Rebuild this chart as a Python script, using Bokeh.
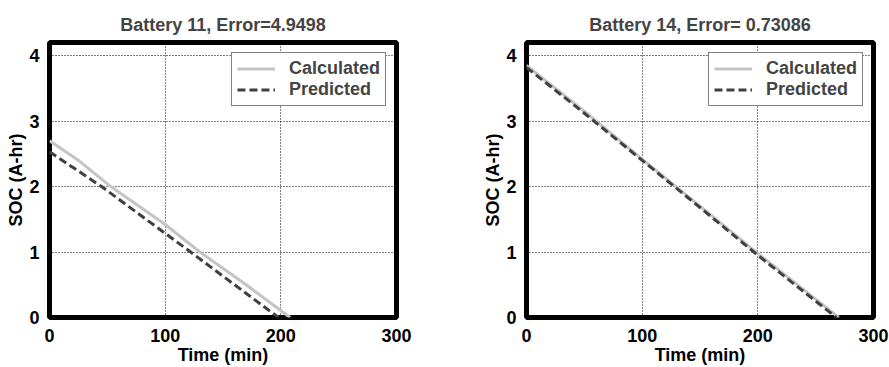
from bokeh.plotting import figure
from bokeh.layouts import row
from bokeh.models import Range1d, FixedTicker, Legend, LegendItem
from bokeh.embed import file_html
from bokeh.resources import INLINE

# Battery 11
t11_calc = [0, 25, 53, 100, 130, 170, 208]
soc11_calc = [2.70, 2.40, 2.00, 1.42, 1.00, 0.50, 0.0]
t11_pred = [0, 45, 85, 122, 160, 198]
soc11_pred = [2.53, 2.00, 1.48, 1.00, 0.50, 0.0]

# Battery 14
t14_calc = [0, 50, 100, 150, 200, 250, 270]
soc14_calc = [3.85, 3.15, 2.42, 1.70, 0.98, 0.28, 0.0]
t14_pred = [0, 50, 100, 150, 200, 250, 268]
soc14_pred = [3.82, 3.12, 2.40, 1.68, 0.95, 0.25, 0.0]

titles = ["Battery 11, Error=4.9498", "Battery 14, Error= 0.73086"]
x_ticks = [0, 100, 200, 300]
y_ticks = [0, 1, 2, 3, 4]
FONT = "Liberation Sans"


def make_plot(title, tc, sc, tp, sp, width, left_border, right_border):
    p = figure(width=width, height=367, output_backend="svg", toolbar_location=None,
               x_range=Range1d(0, 300), y_range=Range1d(0, 4.2),
               min_border_left=left_border, min_border_right=right_border,
               min_border_top=42, min_border_bottom=50, title=title)
    p.title.align = "center"
    p.title.text_font = FONT
    p.title.text_font_style = "bold"
    p.title.text_font_size = "18px"
    p.title.standoff = 16
    p.outline_line_color = "black"
    p.outline_line_width = 5
    p.outline_line_alpha = 1
    for ax in (p.xaxis[0], p.yaxis[0]):
        ax.axis_line_color = None
        ax.major_tick_line_color = None
        ax.minor_tick_line_color = None
        ax.major_label_text_font = FONT
        ax.major_label_text_font_style = "bold"
        ax.major_label_text_font_size = "18px"
        ax.major_label_text_color = "black"
        ax.axis_label_text_font = FONT
        ax.axis_label_text_font_style = "bold"
        ax.axis_label_text_font_size = "18px"
        ax.axis_label_text_color = "black"
    p.xaxis.ticker = FixedTicker(ticks=x_ticks)
    p.yaxis.ticker = FixedTicker(ticks=y_ticks)
    p.xaxis.axis_label = "Time (min)"
    p.yaxis.axis_label = "SOC (A-hr)"
    p.xaxis.major_label_standoff = 5
    p.yaxis.major_label_standoff = 4
    p.xaxis.axis_label_standoff = 0
    p.yaxis.axis_label_standoff = 0
    p.grid.grid_line_color = "black"
    p.grid.grid_line_dash = "1 2"
    p.grid.grid_line_width = 1
    p.grid.grid_line_alpha = 1

    r1 = p.line(tc, sc, line_color="#c4c4c4", line_width=3)
    r2 = p.line(tp, sp, line_color="#404040", line_width=3, line_dash="8 4")
    leg = Legend(items=[LegendItem(label="Calculated", renderers=[r1]),
                        LegendItem(label="Predicted", renderers=[r2])],
                 location="top_right")
    leg.border_line_color = "black"
    leg.border_line_width = 1
    leg.label_text_font = FONT
    leg.label_text_font_style = "bold"
    leg.label_text_font_size = "18px"
    leg.label_height = 21
    leg.glyph_height = 21
    leg.glyph_width = 38
    leg.spacing = 0
    leg.padding = 5
    leg.margin = 10
    leg.label_standoff = 14
    leg.background_fill_alpha = 1
    p.add_layout(leg, "center")
    return p


p1 = make_plot(titles[0], t11_calc, soc11_calc, t11_pred, soc11_pred, 445, 49, 49)
p2 = make_plot(titles[1], t14_calc, soc14_calc, t14_pred, soc14_pred, 444, 81, 16)
layout = row(p1, p2)
open("out.html", "w").write(file_html(layout, INLINE))
